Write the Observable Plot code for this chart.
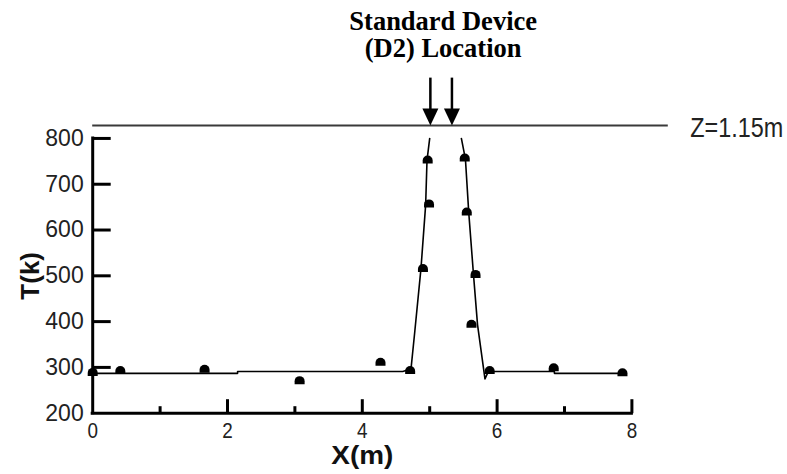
<!DOCTYPE html>
<html><head><meta charset="utf-8">
<script src="https://cdn.jsdelivr.net/npm/d3@7"></script>
<script src="https://cdn.jsdelivr.net/npm/@observablehq/plot@0.6"></script>
<style>html,body{margin:0;padding:0;background:#fff}</style>
</head><body><div id="chart"></div>
<script>
// measured points
const pointX = [0, 0.41, 1.66, 3.07, 4.27, 4.71, 4.90, 4.99, 4.97, 5.52, 5.55, 5.68, 5.62, 5.89, 6.84, 7.86];
const pointT = [288, 292, 295, 270, 310, 292, 515, 656, 752, 756, 638, 502, 393, 292, 298, 287];
// fitted curve (null = gap where curve leaves the plot)
const curveX = [0, 2.15, 2.15, 4.60, 4.66, 4.72, 4.78, 4.87, 4.94, 4.96, 5.00, 5.20, 5.47, 5.53, 5.58, 5.65, 5.71, 5.82, 5.87, 6.85, 6.85, 7.90];
const curveT = [287, 287, 291, 291, 294, 293, 380, 515, 655, 752, 800, null, 800, 755, 637, 502, 393, 275, 291, 291, 287, 287];
const yTicks = [200, 300, 400, 500, 600, 700, 800];
const xTicks = [0, 2, 4, 6, 8];
const xMinorTicks = [1, 3, 5, 7];
const deviceX = [5.01, 5.33];
const zLevel = [828];
const zLineEnd = 8.54;
const titleText = "Standard Device\n(D2) Location";
const zLabel = "Z=1.15m";
const xLabel = "X(m)";
const yLabel = "T(k)";

const W = 787, H = 474;
const mLeft = 92.2, mRight = W - 631.4, mTop = 124.2, mBottom = H - 412.7;

const dome = {draw(ctx) { ctx.moveTo(-5, 3); ctx.lineTo(-5, 0); ctx.arc(0, 0, 5, Math.PI, 2 * Math.PI); ctx.lineTo(5, 3); ctx.closePath(); }};
const yTickSym = {draw(ctx) { ctx.moveTo(0, 0); ctx.lineTo(18, 0); }};
const xMajorSym = {draw(ctx) { ctx.moveTo(0, 0); ctx.lineTo(0, -14); }};
const xMinorSym = {draw(ctx) { ctx.moveTo(0, 0); ctx.lineTo(0, -7); }};
const headSym = {draw(ctx) { ctx.moveTo(0, 0); ctx.lineTo(-8, -17); ctx.lineTo(8, -17); ctx.closePath(); }};
const shaftSym = {draw(ctx) { ctx.moveTo(0, -15); ctx.lineTo(0, -48); }};

const points = pointX.map((x, i) => ({x, t: pointT[i]}));
const curve = curveX.map((x, i) => ({x, t: curveT[i]}));
const yMid = (yTicks[0] + yTicks[yTicks.length - 1]) / 2;
const devMid = d3.mean(deviceX);

const chart = Plot.plot({
  width: W, height: H,
  marginLeft: mLeft, marginRight: mRight, marginTop: mTop, marginBottom: mBottom,
  x: {domain: [xTicks[0], xTicks[xTicks.length - 1]]},
  y: {domain: [yTicks[0], 830]},
  style: {fontFamily: "Liberation Sans, Arial, sans-serif", background: "#fff", overflow: "visible"},
  marks: [
    // Z line
    Plot.ruleY(zLevel, {y: d => d, x1: xTicks[0], x2: zLineEnd, stroke: "#3a3a3a", strokeWidth: 2}),
    Plot.text([zLabel], {x: zLineEnd, y: zLevel[0], dx: 22, dy: 3, textAnchor: "start", lineAnchor: "middle", fontSize: 27, fill: "#222"}),
    // axes lines
    Plot.ruleX([xTicks[0]], {x: d => d, y1: yTicks[0], y2: yTicks[yTicks.length - 1], strokeWidth: 3, stroke: "#000", strokeLinecap: "square"}),
    Plot.ruleY([yTicks[0]], {y: d => d, x1: xTicks[0], x2: xTicks[xTicks.length - 1], strokeWidth: 3, stroke: "#000", strokeLinecap: "square"}),
    // tick marks
    Plot.dot(yTicks.slice(1), {x: xTicks[0], y: d => d, symbol: yTickSym, fill: "none", stroke: "#000", strokeWidth: 3}),
    Plot.dot(xTicks.slice(1), {x: d => d, y: yTicks[0], symbol: xMajorSym, fill: "none", stroke: "#000", strokeWidth: 3}),
    Plot.dot(xMinorTicks, {x: d => d, y: yTicks[0], symbol: xMinorSym, fill: "none", stroke: "#000", strokeWidth: 3}),
    // tick labels
    Plot.axisY(yTicks, {tickSize: 0, tickPadding: 9, fontSize: 23, label: null, fill: "#222"}),
    Plot.axisX(xTicks, {tickSize: 0, tickPadding: 9, fontSize: 22, label: null, fill: "#222"}),
    // axis titles
    Plot.text([xLabel], {frameAnchor: "bottom", dy: 42, lineAnchor: "middle", fontSize: 26, fontWeight: "bold", fill: "#111"}),
    Plot.text([yLabel], {x: xTicks[0], y: yMid, dx: -62, rotate: -90, lineAnchor: "middle", fontSize: 26, fontWeight: "bold", fill: "#111"}),
    // fitted curve
    Plot.line(curve, {x: "x", y: "t", stroke: "#000", strokeWidth: 1.6}),
    // data points
    Plot.dot(points, {x: "x", y: "t", symbol: dome, fill: "#000", stroke: "none"}),
    // arrows
    Plot.dot(deviceX, {x: d => d, y: zLevel[0], symbol: shaftSym, fill: "none", stroke: "#000", strokeWidth: 2.5}),
    Plot.dot(deviceX, {x: d => d, y: zLevel[0], symbol: headSym, fill: "#000", stroke: "none"}),
    // title
    Plot.text([titleText], {x: devMid, frameAnchor: "top", lineAnchor: "top", dx: 2, dy: 10 - mTop, fontFamily: "Liberation Serif, Times New Roman, serif", fontWeight: "bold", fontSize: 26.5, lineHeight: 1.02, fill: "#000"})
  ]
});
// condensed-looking labels: fit them to the reference widths
function fitWidth(el, w) {
  el.setAttribute("textLength", w);
  el.setAttribute("lengthAdjust", "spacingAndGlyphs");
}
const allText = d3.select(chart).selectAll("text");
allText.filter(function () { return this.textContent === zLabel; }).each(function () { fitWidth(this, 93); });
allText.filter(function () { return this.textContent === xLabel; }).each(function () { fitWidth(this, 62); });
d3.select(chart).selectAll('g[aria-label="x-axis tick label"] text').each(function () { fitWidth(this, 10.5); });
document.getElementById("chart").appendChild(chart);
</script>
</body></html>
